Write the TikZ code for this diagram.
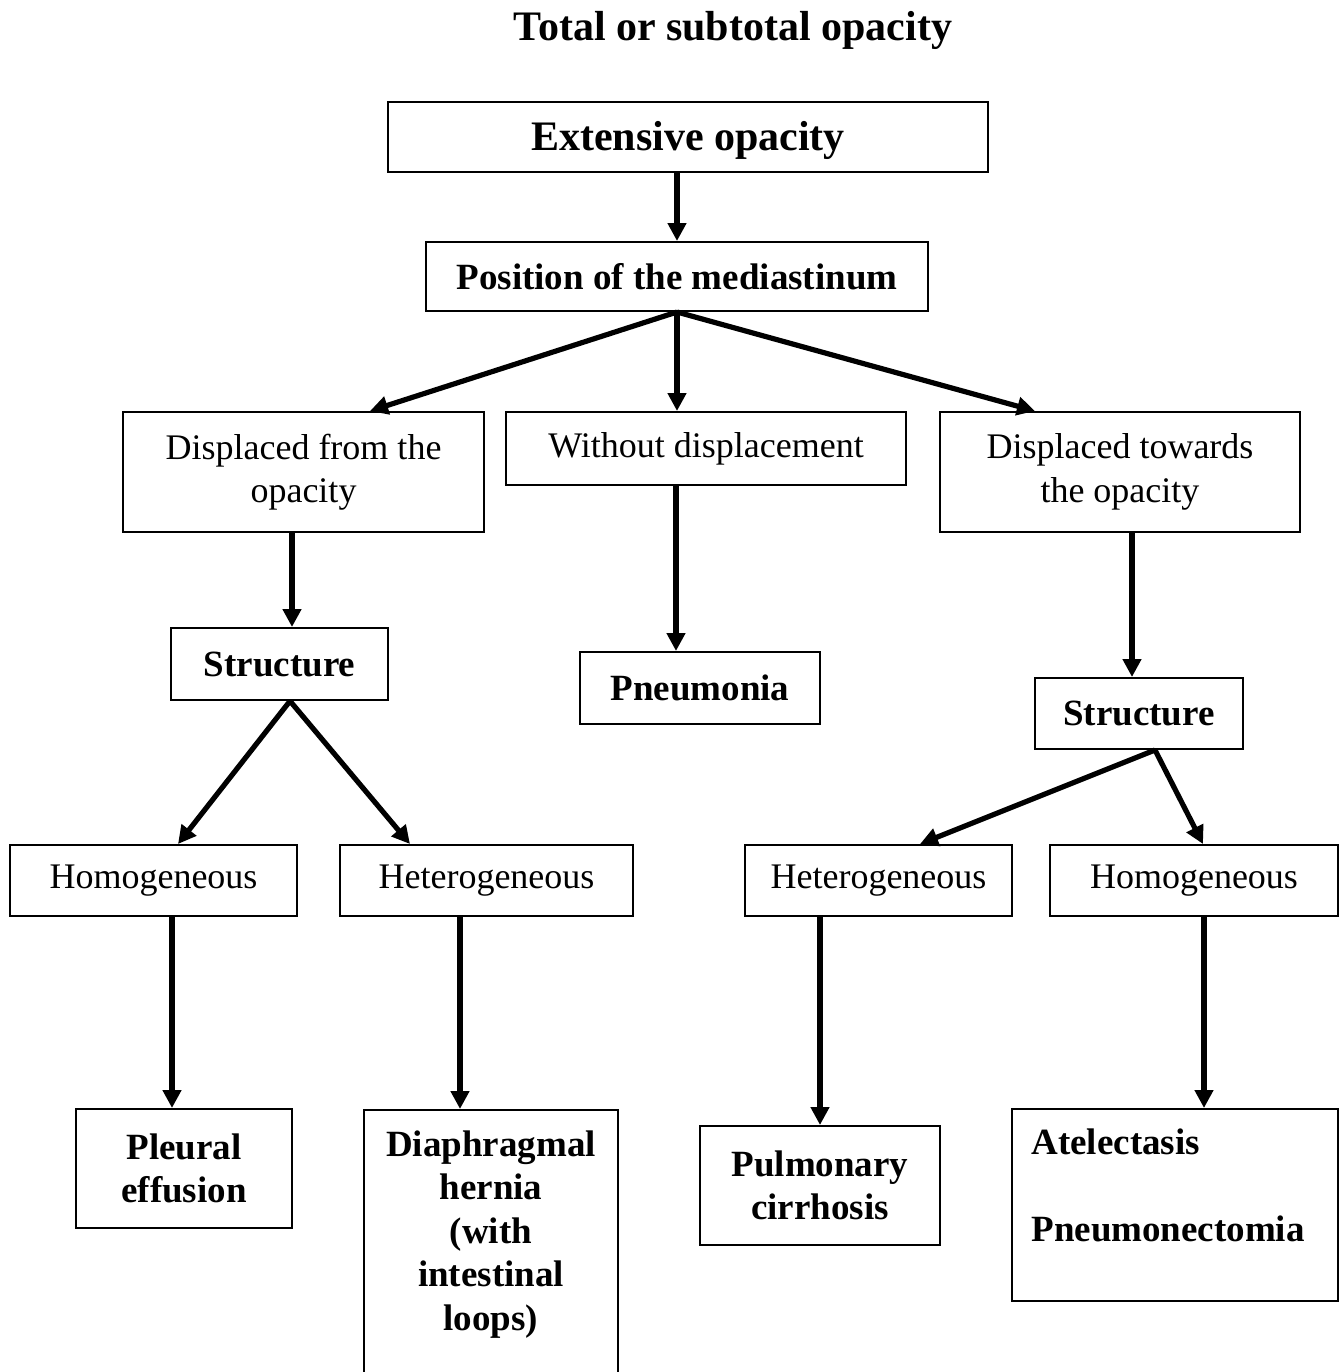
\documentclass[tikz,border=0pt]{standalone}
\usepackage{fontspec}
\setmainfont{Liberation Serif}
\usetikzlibrary{positioning, calc, arrows.meta}
\newcommand{\BoxF}{\fontsize{18}{21.75}\selectfont}
\newcommand{\BoldF}{\fontsize{18.5}{21.75}\selectfont\bfseries}
\newcommand{\BigF}{\fontsize{21}{25}\selectfont\bfseries}

\begin{document}
\begin{tikzpicture}[x=0.5pt,y=-0.5pt,
  box/.style={draw, line width=1pt, inner sep=0pt, align=center, font=\BoxF},
  boldbox/.style={box, font=\BoldF},
  arr/.style={line width=2.6pt, -{Triangle[length=9pt,width=9pt]}}]
\useasboundingbox (0,0) rectangle (1343,1372);
\node[font=\BigF] (title) at (733,30) {Total or subtotal opacity};
% top of the tree
\node[box, font=\BigF, minimum width=300pt, minimum height=35pt, text depth=1pt] (ext) at (688,137) {Extensive opacity};
\node[boldbox, minimum width=251pt, minimum height=34.5pt] (pos) at (677,276.5) {Position of the mediastinum};
\node[box, minimum width=180.5pt, minimum height=60pt] (dfrom) at (303.5,472) {Displaced from the\\opacity};
\node[box, minimum width=200pt, minimum height=36.5pt] (wdisp) at (706,448.5) {Without displacement};
\node[box, minimum width=180pt, minimum height=60pt] (dtow) at (1120,472) {Displaced towards\\the opacity};
% second level
\node[boldbox, minimum width=108.5pt, minimum height=36pt] (strL) at (279.5,664) {Structure};
\node[boldbox, minimum width=120pt, minimum height=36pt] (pneu) at (700,688) {Pneumonia};
\node[boldbox, minimum width=104pt, minimum height=35.5pt] (strR) at (1139,713.5) {Structure};
\node[box, minimum width=143.5pt, minimum height=35.5pt] (homL) at (153.5,880.5) {Homogeneous};
\node[box, minimum width=146.5pt, minimum height=35.5pt] (hetL) at (486.5,880.5) {Heterogeneous};
\node[box, minimum width=133.5pt, minimum height=35.5pt] (hetR) at (878.5,880.5) {Heterogeneous};
\node[box, minimum width=144pt, minimum height=35.5pt] (homR) at (1194,880.5) {Homogeneous};
% leaves
\node[boldbox, minimum width=108pt, minimum height=59.5pt] (pleu) at (184,1168.5) {Pleural\\effusion};
\node[box, minimum width=127pt, minimum height=150pt, anchor=north] (hern) at (491,1109) {};
\node[font=\BoldF, align=center, inner sep=0pt, anchor=north] (herntxt) at ([yshift=-10.5pt]hern.north) {Diaphragmal\\hernia\\(with\\intestinal\\loops)};
\node[boldbox, minimum width=120pt, minimum height=59.5pt] (pulm) at (820,1185.5) {Pulmonary\\cirrhosis};
\node[box, minimum width=163pt, minimum height=96pt] (atel) at (1175,1205) {};
\node[font=\BoldF, align=left, inner sep=0pt, anchor=north west] (ateltxt) at ([xshift=10pt,yshift=-10pt]atel.north west) {Atelectasis\\[21.75pt]Pneumonectomia};
% connectors
\draw[arr, line width=3pt] (pos.north |- ext.south) -- (pos.north);
\draw[arr] (pos.south) -- ([xshift=33.25pt]dfrom.north);
\draw[arr] (pos.south) -- (pos.south |- wdisp.north);
\draw[arr] (pos.south) -- ([xshift=-42.5pt]dtow.north);
\draw[arr] ([xshift=-5.75pt]dfrom.south) -- ([xshift=-5.75pt]dfrom.south |- strL.north);
\draw[arr] ([xshift=-15pt]wdisp.south) -- ([xshift=-15pt]wdisp.south |- pneu.north);
\draw[arr] ([xshift=6pt]dtow.south) -- ([xshift=6pt]dtow.south |- strR.north);
\draw[arr] ([xshift=5.25pt]strL.south) -- ([xshift=12.25pt]homL.north);
\draw[arr] ([xshift=5.25pt]strL.south) -- ([xshift=-38.25pt]hetL.north);
\draw[arr] ([xshift=8pt]strR.south) -- ([xshift=20.75pt]hetR.north);
\draw[arr] ([xshift=8pt]strR.south) -- ([xshift=4.5pt]homR.north);
\draw[arr] ([xshift=9.25pt]homL.south) -- ([xshift=9.25pt]homL.south |- pleu.north);
\draw[arr] ([xshift=-13.25pt]hetL.south) -- ([xshift=-13.25pt]hetL.south |- hern.north);
\draw[arr] ([xshift=-29.25pt]hetR.south) -- ([xshift=-29.25pt]hetR.south |- pulm.north);
\draw[arr] ([xshift=5pt]homR.south) -- ([xshift=5pt]homR.south |- atel.north);
\end{tikzpicture}
\end{document}
